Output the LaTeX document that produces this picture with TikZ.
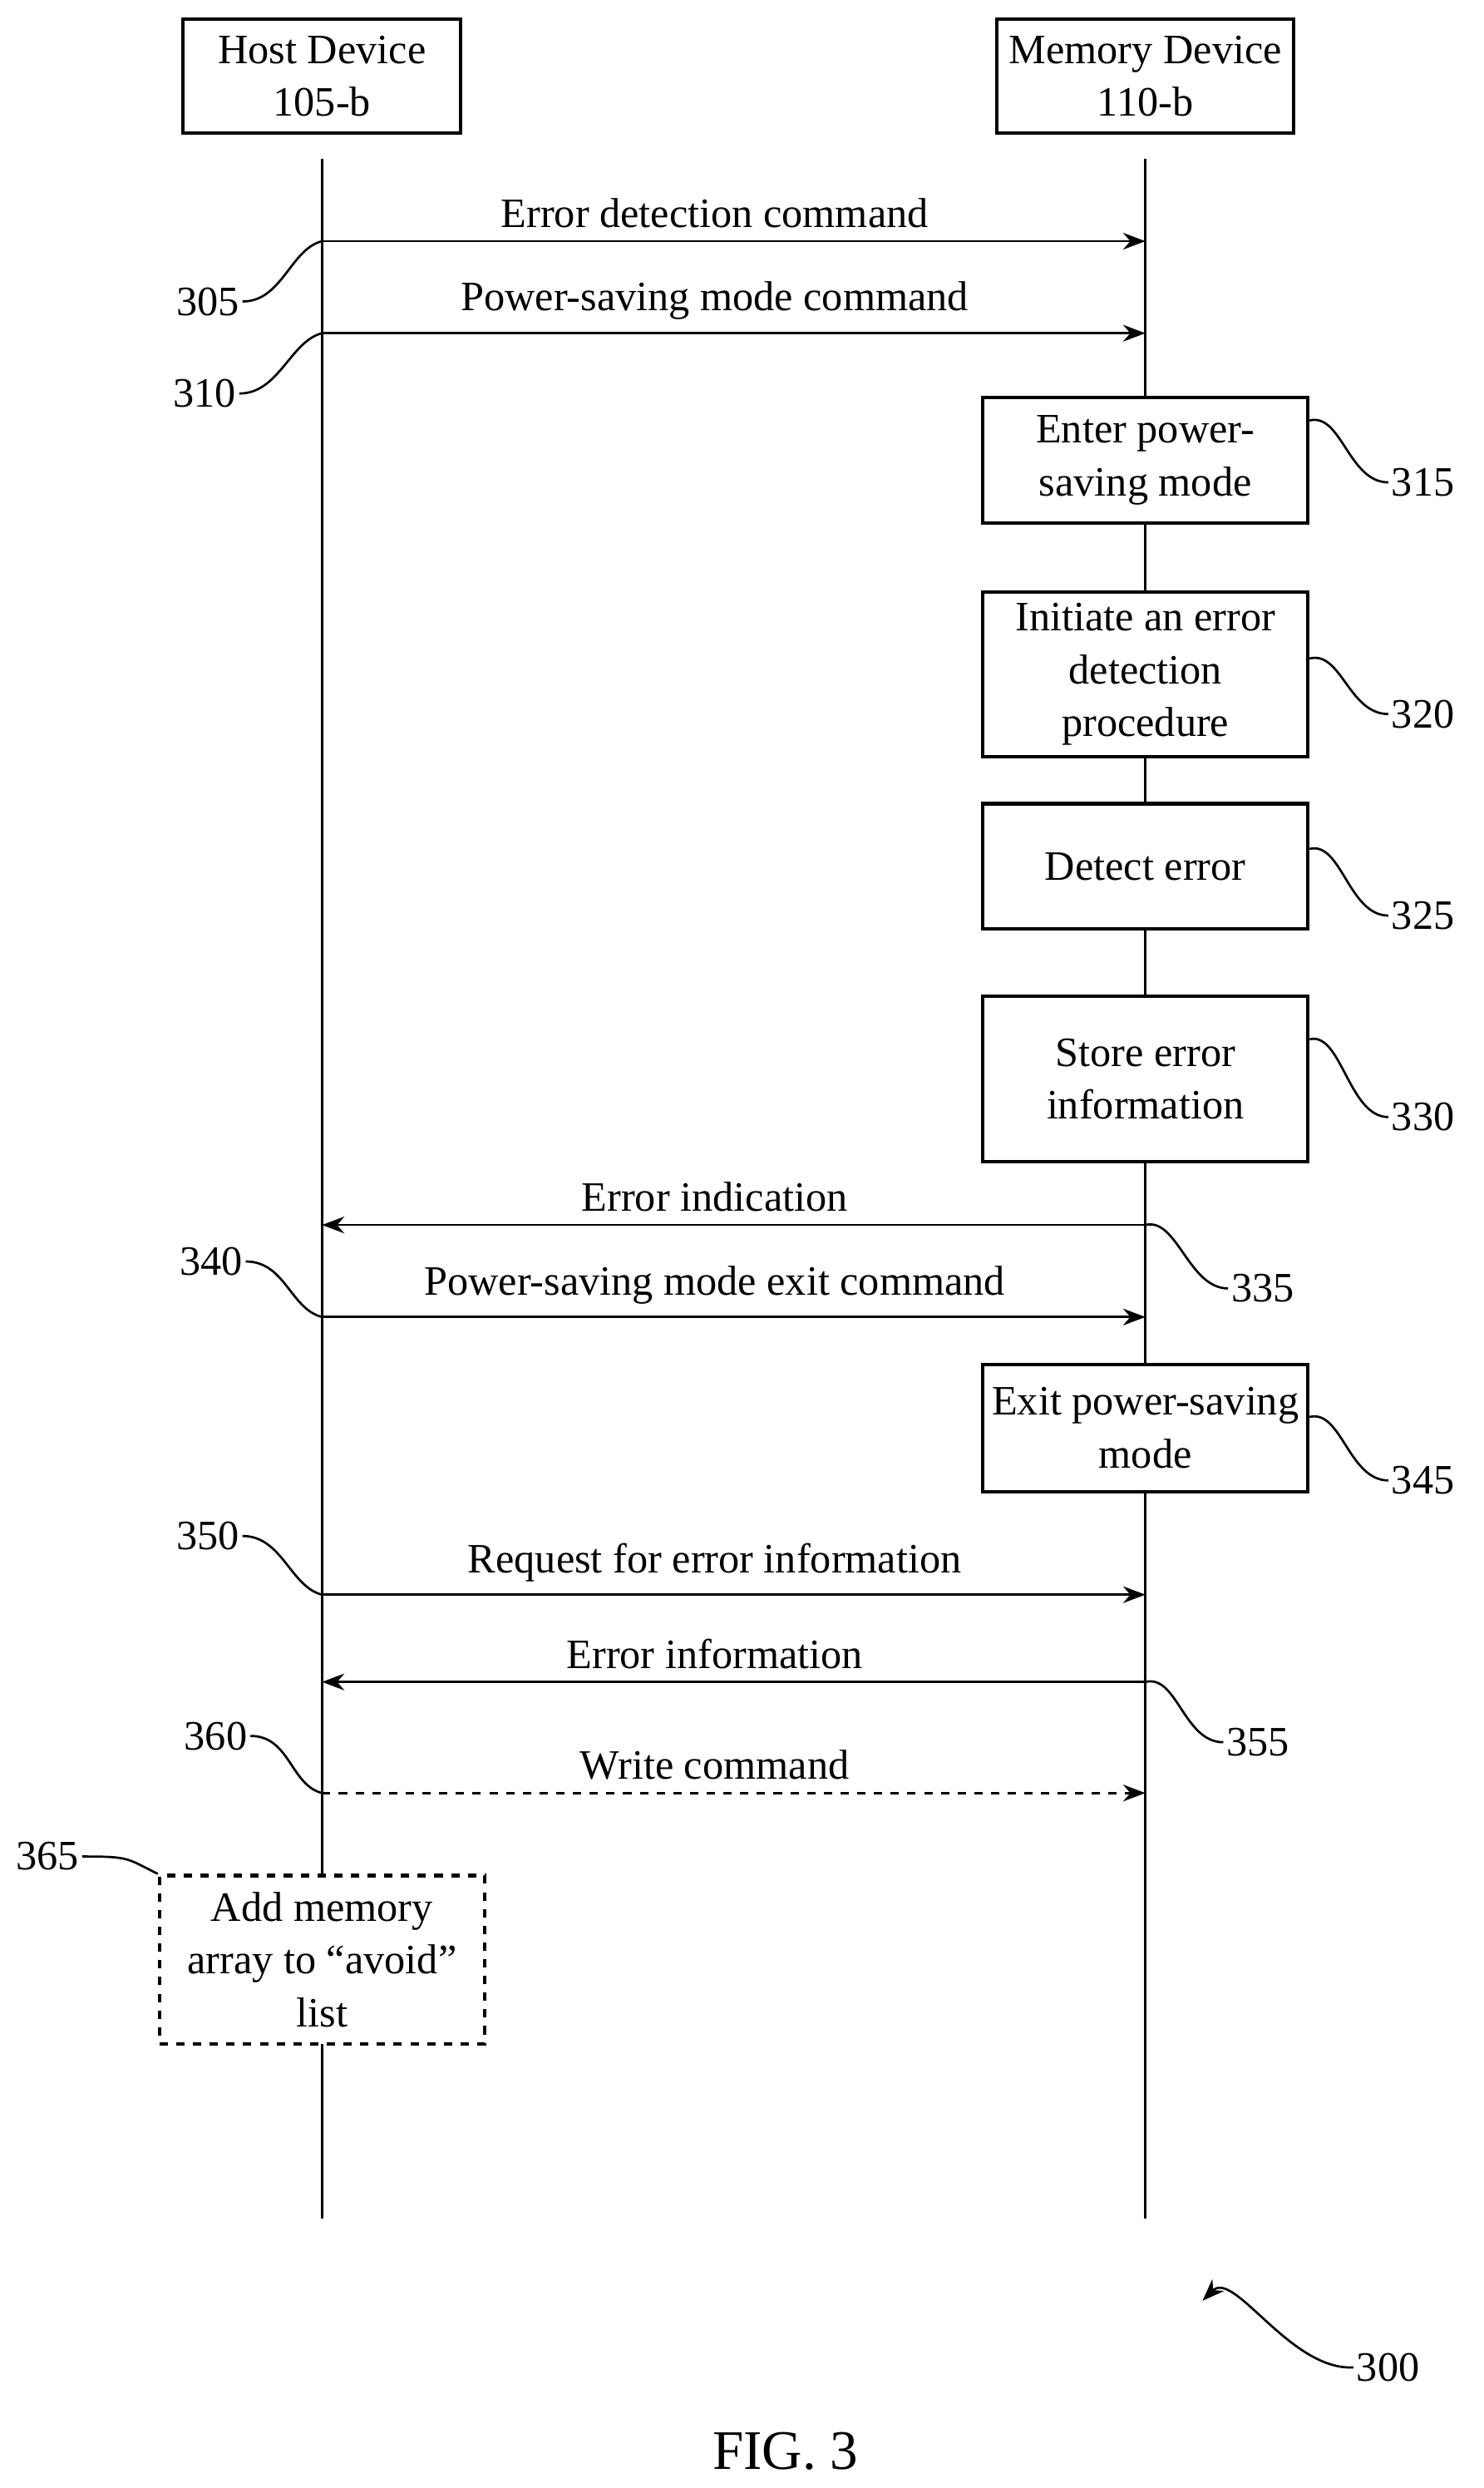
\documentclass[tikz,border=0pt]{standalone}
\usepackage{fontspec}
\setmainfont{Liberation Serif}
\usetikzlibrary{arrows.meta}

\tikzset{
  actor/.style={draw,line width=1.2pt,minimum width=3.5cm,minimum height=1.44cm,align=center,inner sep=2pt},
  proc/.style={draw,line width=1.2pt,minimum width=4.1cm,align=center,inner sep=2pt},
  msg/.style={-{Stealth[length=8pt,width=6pt]},line width=0.8pt},
  mtext/.style={above,xshift=-0.24cm,yshift=1pt},
  lead/.style={line width=0.8pt},
  lbl/.style={inner sep=1pt}
}

\begin{document}
\begin{tikzpicture}[x=0.02cm,y=-0.02cm,font=\fontsize{15}{19}\selectfont]
\useasboundingbox (0,0) rectangle (935,1568);
% lifelines
\node[actor] (host) at (203,48) {Host Device\\105-b};
\node[actor,minimum width=3.74cm] (mem) at (722,48) {Memory Device\\110-b};
\coordinate (hostend) at (203,1398);
\coordinate (memend) at (722,1398);
\draw[line width=0.8pt] (203,100) -- (hostend);
\draw[line width=0.8pt] (722,100) -- (memend);

% memory device steps
\node[proc,minimum height=1.58cm,fill=white] (s315) at (722,290) {Enter power-\\saving mode};
\node[proc,minimum height=2.08cm,fill=white] (s320) at (722,425) {Initiate an error\\detection\\procedure};
\node[proc,minimum height=1.58cm,fill=white] (s325) at (722,546) {Detect error};
\node[proc,minimum height=2.08cm,fill=white] (s330) at (722,680) {Store error\\information};
\node[proc,minimum height=1.6cm,fill=white] (s345) at (722,900) {Exit power-saving\\mode};
\node[proc,minimum height=2.12cm,dashed,fill=white] (s365) at (203,1235) {Add memory\\array to ``avoid''\\list};

% messages
\coordinate (h305) at (203,152); \coordinate (m305) at (722,152);
\coordinate (h310) at (203,210); \coordinate (m310) at (722,210);
\coordinate (h335) at (203,772); \coordinate (m335) at (722,772);
\coordinate (h340) at (203,830); \coordinate (m340) at (722,830);
\coordinate (h350) at (203,1005); \coordinate (m350) at (722,1005);
\coordinate (h355) at (203,1060); \coordinate (m355) at (722,1060);
\coordinate (h360) at (203,1130); \coordinate (m360) at (722,1130);
\draw[msg] (h305) -- node[mtext] {Error detection command} (m305);
\draw[msg] (h310) -- node[mtext] {Power-saving mode command} (m310);
\draw[msg] (m335) -- node[mtext] {Error indication} (h335);
\draw[msg] (h340) -- node[mtext] {Power-saving mode exit command} (m340);
\draw[msg] (h350) -- node[mtext] {Request for error information} (m350);
\draw[msg] (m355) -- node[mtext] {Error information} (h355);
\draw[msg,dashed] (h360) -- node[mtext] {Write command} (m360);

% reference numerals
\node[lbl] (n305) at (131,190) {305};
\node[lbl] (n310) at (129,248) {310};
\node[lbl] (n315) at (897,304) {315};
\node[lbl] (n320) at (897,450) {320};
\node[lbl] (n325) at (897,577) {325};
\node[lbl] (n330) at (897,704) {330};
\node[lbl] (n335) at (796,812) {335};
\node[lbl] (n340) at (133,795) {340};
\node[lbl] (n345) at (897,933) {345};
\node[lbl] (n350) at (131,968) {350};
\node[lbl] (n355) at (793,1098) {355};
\node[lbl] (n360) at (136,1094) {360};
\node[lbl] (n365) at (30,1170) {365};
\node[lbl] (n300) at (875,1492) {300};
\node (fig) at (495,1545) {\fontsize{20}{24}\selectfont FIG. 3};

% leader lines
\draw[lead] (n305.east) .. controls +(25,0) and +(-20,5) .. (h305);
\draw[lead] (n310.east) .. controls +(25,0) and +(-20,5) .. (h310);
\draw[lead] (n340.east) .. controls +(25,0) and +(-20,-5) .. (h340);
\draw[lead] (n350.east) .. controls +(25,0) and +(-20,-5) .. (h350);
\draw[lead] (n360.east) .. controls +(25,0) and +(-20,-5) .. (h360);
\draw[lead] (n365.east) .. controls +(30,0) and +(-20,-10) .. (s365.north west);
\draw[lead] (n315.west) .. controls +(-25,0) and +(20,-5) .. (s315.east |- 0,265);
\draw[lead] (n320.west) .. controls +(-25,0) and +(20,-5) .. (s320.east |- 0,415);
\draw[lead] (n325.west) .. controls +(-25,0) and +(20,-5) .. (s325.east |- 0,535);
\draw[lead] (n330.west) .. controls +(-25,0) and +(20,-5) .. (s330.east |- 0,655);
\draw[lead] (n345.west) .. controls +(-25,0) and +(20,-5) .. (s345.east |- 0,893);
\draw[lead] (n335.west) .. controls +(-25,0) and +(20,-5) .. (m335);
\draw[lead] (n355.west) .. controls +(-25,0) and +(20,-5) .. (m355);
\draw[msg] (n300.west) .. controls +(-40,2) and +(20,-20) .. (758,1450);
\end{tikzpicture}
\end{document}
